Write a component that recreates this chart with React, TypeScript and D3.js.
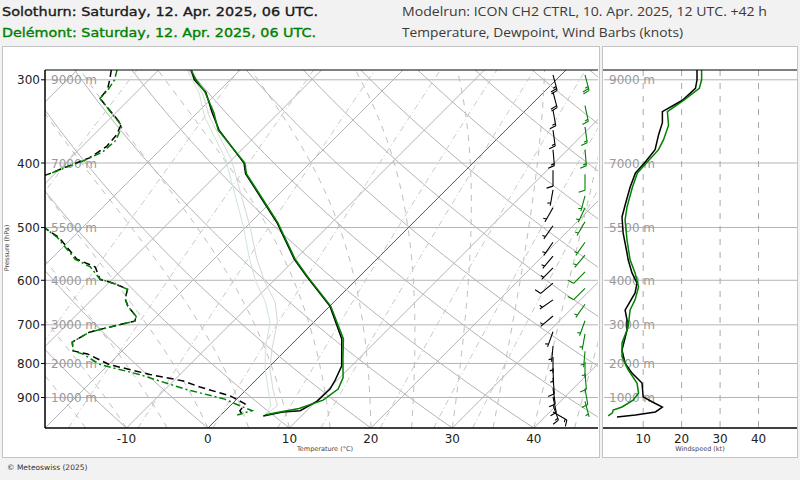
import React from 'react';
import * as d3 from 'd3';

// ---------- axes / ticks ----------
const P_TOP = 290;
const P_BOT = 1000;
const T_MIN = -20;
const T_MAX = 48;
const pressureTicks = [300, 400, 500, 600, 700, 800, 900];
const heightLabels = ['9000 m', '7000 m', '5500 m', '4000 m', '3000 m', '2000 m', '1000 m'];
const tempTicks = [-10, 0, 10, 20, 30, 40];
const speedTicks = [10, 20, 30, 40];

// ---------- Solothurn (black) ----------
const solTempP = [290, 300, 313, 336, 357, 400, 415, 491, 558, 592, 656, 735, 807, 850, 874, 911, 942, 946, 959];
const solTempT = [-46.0, -44.4, -41.5, -38.2, -35.2, -28.1, -26.6, -16.8, -10.1, -6.5, 0.0, 5.5, 8.8, 9.8, 10.2, 10.1, 9.2, 7.2, 5.3];
const solDewP = [290, 300, 310, 320, 350, 363, 378, 393, 405, 416, 450, 480, 500, 518, 558, 573, 598, 604, 612, 619, 640, 656, 680, 691, 705, 718, 743, 766, 774, 803, 831, 850, 868, 895, 920, 942, 959];
const solDewT = [-55.8, -54.8, -53.9, -53.7, -47.9, -47.2, -47.0, -47.7, -49.4, -50.8, -56, -52, -44.7, -41.6, -36.8, -33.6, -31.5, -29.9, -28.2, -26.9, -26.0, -24.8, -22.5, -22.1, -24.4, -26.3, -27.2, -26.0, -23.9, -19.9, -13.7, -8.8, -6.0, -1.2, 1.6, 1.8, 2.8];

// ---------- Delémont (green) ----------
const delTempP = [290, 300, 313, 336, 357, 400, 415, 491, 558, 592, 656, 735, 790, 840, 874, 908, 935, 948, 956];
const delTempT = [-46.0, -44.2, -41.6, -38.0, -35.3, -28.0, -26.5, -16.7, -10.0, -6.4, 0.1, 5.7, 8.2, 10.4, 11.2, 10.7, 8.8, 6.6, 5.4];
const delDewP = [290, 300, 310, 320, 344, 352, 370, 385, 398, 414, 450, 480, 500, 518, 558, 573, 598, 604, 612, 619, 640, 656, 680, 691, 705, 718, 743, 766, 774, 803, 831, 874, 905, 926, 942, 956];
const delDewT = [-55.1, -54.2, -53.8, -53.7, -49.1, -47.6, -46.6, -46.8, -48.2, -50.5, -56, -52, -44.7, -41.8, -37.0, -34.2, -31.5, -29.9, -28.2, -26.9, -26.0, -24.8, -22.5, -22.1, -24.4, -26.3, -27.2, -26.0, -24.5, -21.0, -15.0, -7.6, -1.5, 1.2, 3.3, 2.0];

// ---------- light parcel-type curves ----------
const solParcelP = [290, 314, 341, 395, 498, 558, 604, 647, 693, 762, 816, 874, 926, 956];
const solParcelT = [-46.3, -41.8, -38.0, -30.1, -19.6, -14.7, -10.9, -7.2, -4.5, -1.8, 0.4, 3.2, 5.8, 5.4];
const delParcelP = [290, 314, 341, 395, 498, 558, 604, 647, 693, 762, 816, 874, 926, 956];
const delParcelT = [-46.5, -42.2, -38.6, -30.8, -20.4, -15.6, -12.0, -8.4, -5.4, -2.6, -0.2, 2.6, 5.0, 5.4];

// ---------- wind speed profiles (kt) ----------
const solWindP = [290, 300, 309, 322, 335, 348, 363, 382, 399, 414, 435, 463, 482, 510, 546, 559, 585, 606, 627, 665, 688, 713, 764, 799, 827, 856, 898, 914, 930, 946, 956, 963];
const solWindS = [24, 24, 23.6, 20.2, 15, 15, 14, 13.1, 10.5, 8, 6.6, 5.3, 4.5, 4.8, 5.8, 6.1, 7.1, 8.4, 7.9, 5.3, 5.8, 5.8, 4.5, 5.3, 7.1, 9.7, 10, 12.4, 15, 13.2, 8, 3.2];
const delWindP = [290, 300, 309, 322, 335, 351, 369, 382, 399, 414, 435, 466, 487, 522, 559, 585, 614, 642, 665, 705, 745, 782, 818, 856, 886, 908, 930, 940, 949, 959];
const delWindS = [25.2, 25.2, 24.6, 20.5, 16.3, 16.6, 15.3, 14, 11, 8.5, 7.2, 5.8, 5.3, 5.8, 6.6, 7.9, 8.8, 7.9, 6.6, 6.1, 4.5, 4.5, 6.1, 8.4, 8.8, 7.4, 4.5, 2.2, 2, 0.9];

// ---------- wind barbs (direction deg, speed kt) ----------
const solBarbP = [295, 313, 333, 357, 382, 410, 439, 467, 497, 526, 552, 575, 606, 642, 679, 717, 753, 782, 813, 841, 871, 898, 924, 946];
const solBarbDir = [165, 165, 170, 172, 175, 180, 190, 210, 215, 215, 220, 225, 230, 235, 230, 200, 185, 180, 178, 175, 172, 168, 160, 120];
const solBarbS = [24, 22, 17, 15, 13, 8, 6.5, 5, 4.8, 5.5, 6, 7, 8.4, 6, 5.5, 5.8, 4.5, 4.8, 6, 8, 9.8, 10, 13, 13];
const delBarbP = [295, 328, 353, 382, 416, 448, 467, 490, 526, 550, 583, 617, 652, 690, 722, 767, 795, 828, 873, 912];
const delBarbDir = [165, 168, 172, 175, 180, 195, 205, 210, 215, 220, 225, 225, 215, 200, 190, 185, 180, 175, 170, 165];
const delBarbS = [25, 17, 16, 14, 8.5, 7, 5.8, 5.3, 5.8, 6.6, 7.9, 8.8, 7.3, 6.1, 5, 4.5, 5.5, 8.4, 8.8, 5];

// ---------- background grid values ----------
const isotherms = d3.range(-70, 50, 10);
const dryAdiabatT0 = d3.range(-20, 130, 10);
const moistT0 = d3.range(-20, 50, 5);
const mixingRatios = [0.1, 0.4, 1, 2, 4, 7, 10, 16, 24, 32];

const BLACK = '#000000';
const GREEN = '#008000';
const GRID = '#b4b4b4';

// plot geometry
const PX0 = 45, PX1 = 598, PY0 = 70, PY1 = 428;
const RX0 = 604, RX1 = 797;

const Rd = 287.04, cp = 1005.7, Lv = 2.501e6, eps = 0.622;
const esat = (tc: number) => 6.112 * Math.exp((17.67 * tc) / (tc + 243.5));
function dTdp(p: number, tk: number) {
  const e = esat(tk - 273.15);
  const rs = (eps * e) / (p - e);
  return (Rd * tk + Lv * rs) / (p * (cp + (Lv * Lv * rs * eps) / (Rd * tk * tk)));
}

export default function App() {
  const xT = d3.scaleLinear().domain([T_MIN, T_MAX]).range([PX0, 599]);
  const yP = d3.scaleLog().domain([P_BOT, P_TOP]).range([PY1, PY0]);
  const xS = d3.scaleLinear().domain([0, 50]).range([RX0 + 0.7, RX1]);
  const sx = (T: number, p: number) => xT(T) + (PY1 - yP(p));
  const line = d3.line<[number, number]>().x((d) => d[0]).y((d) => d[1]);
  const pGrid = d3.range(0, 61).map((i) => P_BOT * Math.pow(P_TOP / P_BOT, i / 60));

  const profile = (ps: number[], ts: number[]) => line(ps.map((p, i) => [sx(ts[i], p), yP(p)] as [number, number])) || '';
  const windLine = (ps: number[], ss: number[]) => line(ps.map((p, i) => [xS(ss[i]), yP(p)] as [number, number])) || '';

  const isoPaths = isotherms.map((t) => ({ t, d: line([[sx(t, P_BOT), yP(P_BOT)], [sx(t, P_TOP), yP(P_TOP)]]) || '' }));
  const dryPaths = dryAdiabatT0.map((t0) => {
    const th = t0 + 273.15;
    return line(pGrid.map((p) => [sx(th * Math.pow(p / 1000, 0.2857) - 273.15, p), yP(p)] as [number, number])) || '';
  });
  const moistPaths = moistT0.map((t0) => {
    let tk = t0 + 273.15;
    let p = 1000;
    const pts: [number, number][] = [[sx(t0, p), yP(p)]];
    while (p > P_TOP) {
      const dp = -5;
      const k1 = dTdp(p, tk);
      const k2 = dTdp(p + dp, tk + k1 * dp);
      tk += 0.5 * (k1 + k2) * dp;
      p += dp;
      pts.push([sx(tk - 273.15, p), yP(p)]);
    }
    return line(pts) || '';
  });
  const mixPaths = mixingRatios.map((w) => {
    const pts: [number, number][] = pGrid.map((p) => {
      const e = ((w / 1000) * p) / (eps + w / 1000);
      const l = Math.log(e / 6.112);
      const td = (243.5 * l) / (17.67 - l);
      return [sx(td, p), yP(p)];
    });
    return line(pts) || '';
  });

  // wind barb path (matplotlib-like)
  const barb = (x: number, y: number, dir: number, spd: number) => {
    const L = 16, spacing = L * 0.125, fh = L * 0.4, fw = L * 0.25;
    const r = (dir * Math.PI) / 180;
    const ax = Math.sin(r), ay = -Math.cos(r); // shaft direction (screen)
    const fx = Math.cos(r), fy = Math.sin(r); // feather direction (screen)
    let s = Math.round(spd / 5) * 5;
    if (s < 5) {
      return { d: '', circle: true };
    }
    const nFlag = Math.floor(s / 50); s -= nFlag * 50;
    const nBarb = Math.floor(s / 10); s -= nBarb * 10;
    const half = s >= 5;
    const pt = (o: number, f: number) => `${(x + ax * o + fx * f).toFixed(2)},${(y + ay * o + fy * f).toFixed(2)}`;
    let d = `M${pt(0, 0)}L${pt(L, 0)}`;
    let off = L;
    for (let i = 0; i < nFlag; i++) {
      d += `M${pt(off, 0)}L${pt(off - fw / 2, fh)}L${pt(off - fw, 0)}`;
      off -= fw + spacing;
    }
    for (let i = 0; i < nBarb; i++) {
      d += `M${pt(off, 0)}L${pt(off + fw / 2, fh)}`;
      off -= spacing;
    }
    if (half) {
      if (off === L) off -= 1.5 * spacing;
      d += `M${pt(off, 0)}L${pt(off + fw / 4, fh / 2)}`;
    }
    return { d, circle: false };
  };

  const barbs = (ps: number[], dirs: number[], ss: number[], x: number, color: string, key: string) =>
    ps.map((p, i) => {
      const b = barb(x, yP(p), dirs[i], ss[i]);
      return b.circle ? (
        <circle key={key + i} cx={x} cy={yP(p)} r={2} fill="none" stroke={color} strokeWidth={1} />
      ) : (
        <path key={key + i} d={b.d} fill="none" stroke={color} strokeWidth={1.1} />
      );
    });

  const sans = 'DejaVu Sans, Verdana, sans-serif';

  return (
    <svg width={800} height={480} viewBox="0 0 800 480" style={{ position: 'absolute', left: 0, top: 0 }} xmlns="http://www.w3.org/2000/svg">
      <rect x={0} y={0} width={800} height={480} fill="#f2f2f2" />
      {/* header */}
      <text x={2} y={16} fontFamily={sans} fontSize={13} fill="#1a1a1a" stroke="#1a1a1a" strokeWidth={0.35} textLength={316} lengthAdjust="spacingAndGlyphs">Solothurn: Saturday, 12. Apr. 2025, 06 UTC.</text>
      <text x={2} y={37} fontFamily={sans} fontSize={13} fill={GREEN} stroke={GREEN} strokeWidth={0.35} textLength={314} lengthAdjust="spacingAndGlyphs">Delémont: Saturday, 12. Apr. 2025, 06 UTC.</text>
      <text x={402} y={16} fontFamily="Open Sans, sans-serif" fontSize={13} fill="#3a3a3a" textLength={365} lengthAdjust="spacingAndGlyphs">Modelrun: ICON CH2 CTRL, 10. Apr. 2025, 12 UTC. +42 h</text>
      <text x={402} y={37} fontFamily="Open Sans, sans-serif" fontSize={13} fill="#3a3a3a" textLength={281} lengthAdjust="spacingAndGlyphs">Temperature, Dewpoint, Wind Barbs (knots)</text>

      {/* panels */}
      <rect x={2.5} y={46.5} width={597} height={411} fill="#ffffff" stroke="#c4c4c4" strokeWidth={1} />
      <rect x={602.5} y={46.5} width={195} height={411} fill="#ffffff" stroke="#c4c4c4" strokeWidth={1} />

      <defs>
        <clipPath id="mainClip"><rect x={PX0} y={PY0} width={PX1 - PX0} height={PY1 - PY0} /></clipPath>
        <clipPath id="rightClip"><rect x={RX0} y={PY0} width={RX1 - RX0} height={PY1 - PY0} /></clipPath>
      </defs>

      {/* main grid */}
      <g clipPath="url(#mainClip)" fill="none">
        {pressureTicks.map((p) => (
          <line key={'ib' + p} x1={PX0} x2={PX1} y1={yP(p)} y2={yP(p)} stroke={GRID} strokeWidth={1} />
        ))}
        {isoPaths.map((o) => (
          <path key={'it' + o.t} d={o.d} stroke={o.t === 0 ? '#555555' : GRID} strokeWidth={1} />
        ))}
        {dryPaths.map((d, i) => (
          <path key={'da' + i} d={d} stroke={GRID} strokeWidth={1} />
        ))}
        {moistPaths.map((d, i) => (
          <path key={'ma' + i} d={d} stroke="#bdbdbd" strokeWidth={1} strokeDasharray="6,6" />
        ))}
        {mixPaths.map((d, i) => (
          <path key={'mr' + i} d={d} stroke="#c8c8c8" strokeWidth={1} strokeDasharray="6,3,1,3" />
        ))}
        {heightLabels.map((h, i) => (
          <text key={'hl' + i} x={51} y={yP(pressureTicks[i]) + 4.5} fontFamily={sans} fontSize={12} fill="#9a9a9a">{h}</text>
        ))}
        {/* light curves */}
        <path d={profile(solParcelP, solParcelT)} stroke="#d6d6d6" strokeWidth={1} />
        <path d={profile(delParcelP, delParcelT)} stroke="#cfe6cf" strokeWidth={1} />
        {/* profiles */}
        <path d={profile(solDewP, solDewT)} stroke={BLACK} strokeWidth={1.5} strokeDasharray="7,4" />
        <path d={profile(delDewP, delDewT)} stroke={GREEN} strokeWidth={1.5} strokeDasharray="7,3,2,3" />
        <path d={profile(solTempP, solTempT)} stroke={BLACK} strokeWidth={1.5} />
        <path d={profile(delTempP, delTempT)} stroke={GREEN} strokeWidth={1.5} />
      </g>
      {/* barbs */}
      {barbs(solBarbP, solBarbDir, solBarbS, 553, BLACK, 'sb')}
      {barbs(delBarbP, delBarbDir, delBarbS, 585, GREEN, 'db')}

      {/* main axes */}
      <line x1={PX0} x2={PX1} y1={PY0} y2={PY0} stroke="#000" strokeWidth={1.2} />
      <line x1={PX0} x2={PX1} y1={PY1} y2={PY1} stroke="#000" strokeWidth={1.5} />
      <line x1={PX0} x2={PX0} y1={PY0} y2={PY1} stroke="#000" strokeWidth={1.5} />
      {pressureTicks.map((p) => (
        <g key={'pt' + p}>
          <line x1={PX0 - 4} x2={PX0} y1={yP(p)} y2={yP(p)} stroke="#000" />
          <text x={40} y={yP(p) + 4.5} textAnchor="end" fontFamily={sans} fontSize={12} fill="#222">{p}</text>
        </g>
      ))}
      {tempTicks.map((t) => (
        <text key={'tt' + t} x={xT(t)} y={443} textAnchor="middle" fontFamily={sans} fontSize={12} fill="#222">{t}</text>
      ))}
      <text x={325} y={451} textAnchor="middle" fontFamily={sans} fontSize={6.5} fill="#444">Temperature (°C)</text>
      <text transform={`translate(9,248) rotate(-90)`} textAnchor="middle" fontFamily={sans} fontSize={6.5} fill="#444">Pressure (hPa)</text>

      {/* right panel */}
      <g clipPath="url(#rightClip)" fill="none">
        {pressureTicks.map((p) => (
          <line key={'rb' + p} x1={RX0} x2={RX1} y1={yP(p)} y2={yP(p)} stroke={GRID} strokeWidth={1} />
        ))}
        {speedTicks.map((s) => (
          <line key={'rs' + s} x1={xS(s)} x2={xS(s)} y1={PY0} y2={PY1} stroke="#a8a8a8" strokeWidth={1} strokeDasharray="6,7" />
        ))}
        {heightLabels.map((h, i) => (
          <text key={'rh' + i} x={609} y={yP(pressureTicks[i]) + 4.5} fontFamily={sans} fontSize={12} fill="#9a9a9a">{h}</text>
        ))}
        <path d={windLine(solWindP, solWindS)} stroke={BLACK} strokeWidth={1.5} />
        <path d={windLine(delWindP, delWindS)} stroke={GREEN} strokeWidth={1.5} />
      </g>
      <line x1={RX0 - 1} x2={RX1} y1={PY0} y2={PY0} stroke="#000" strokeWidth={1.2} />
      <line x1={RX0 - 1} x2={RX1} y1={PY1} y2={PY1} stroke="#000" strokeWidth={1.5} />
      {speedTicks.map((s) => (
        <text key={'st' + s} x={xS(s)} y={443} textAnchor="middle" fontFamily={sans} fontSize={12} fill="#222">{s}</text>
      ))}
      <text x={700} y={451} textAnchor="middle" fontFamily={sans} fontSize={6.5} fill="#444">Windspeed (kt)</text>

      {/* footer */}
      <text x={7} y={470} fontFamily={sans} fontSize={7.5} fill="#333">© Meteoswiss (2025)</text>
    </svg>
  );
}
